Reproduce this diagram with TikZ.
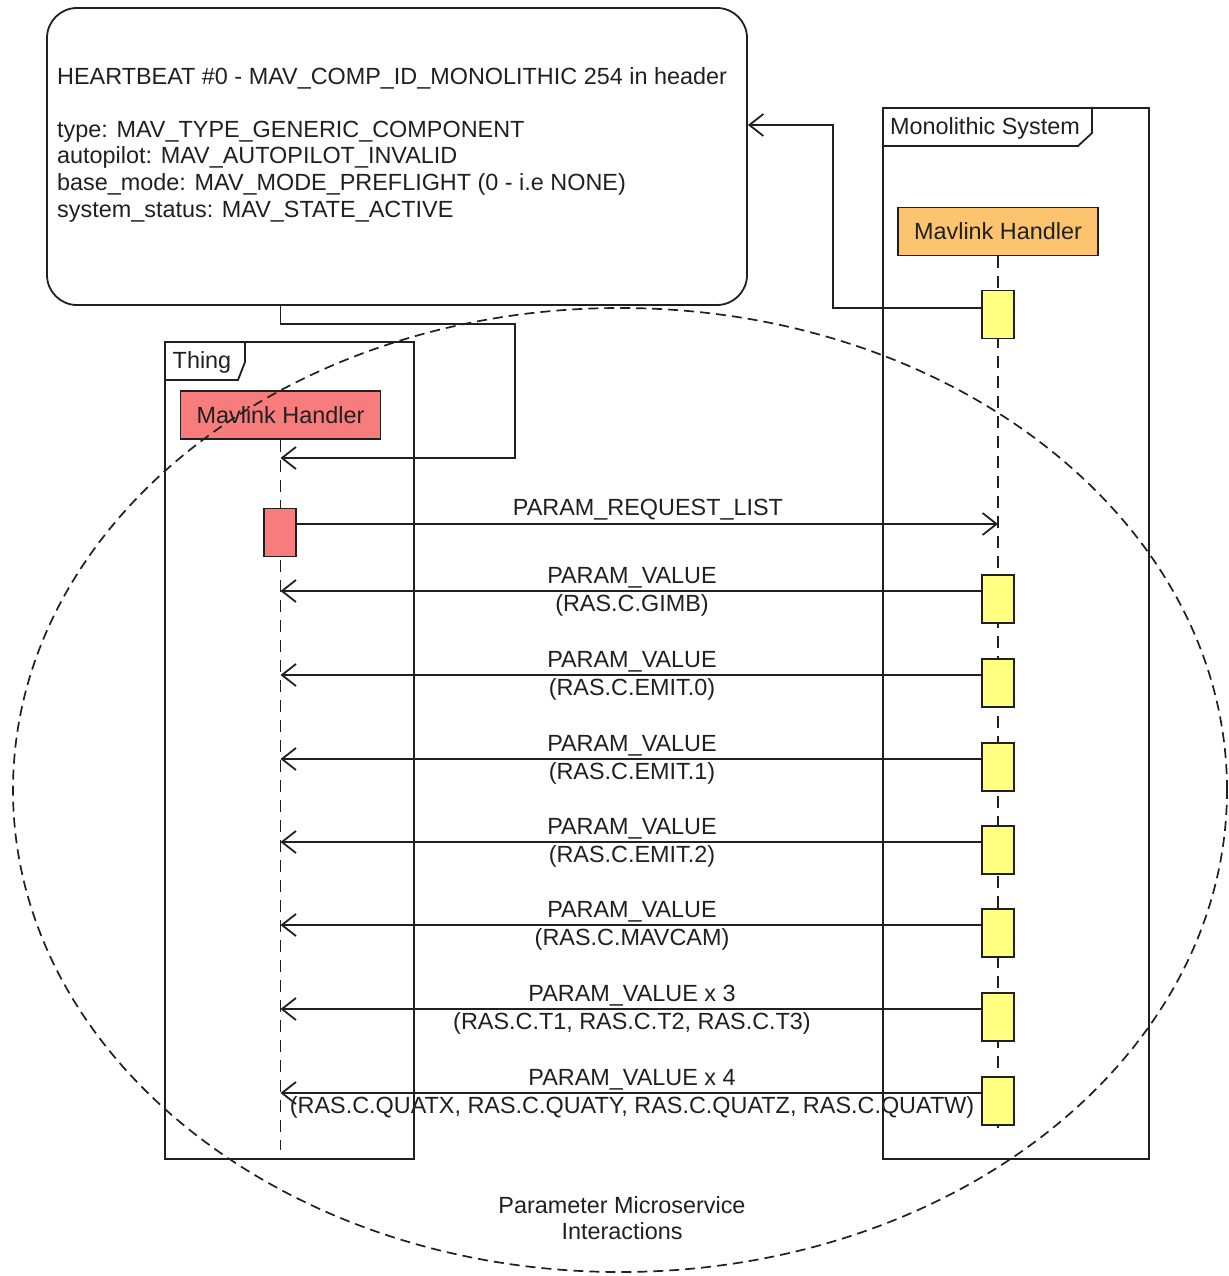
\documentclass[tikz,border=0pt]{standalone}
\usepackage{fontspec}
\setmainfont{Liberation Sans}
\usetikzlibrary{arrows.meta}
\definecolor{ink}{HTML}{202020}
\definecolor{handlerorange}{HTML}{FCC46F}
\definecolor{handlerred}{HTML}{F97C7C}
\definecolor{actyellow}{HTML}{FFFF80}

\begin{document}
\begin{tikzpicture}[x=1pt,y=-1pt,
  every node/.style={font=\fontsize{23.4}{26.6}\selectfont, text=ink},
  wire/.style={draw=ink, line width=1.8pt},
  frame/.style={wire, rectangle, inner sep=0, anchor=north west},
  head/.style={wire, rectangle, minimum width=200pt, minimum height=48pt, inner sep=0},
  act/.style={wire, rectangle, fill=actyellow, minimum width=32pt, minimum height=48pt, inner sep=0},
  lifeline/.style={draw=ink, line width=1.7pt, dash pattern=on 12pt off 8pt},
  msg/.style={wire, -{Straight Barb[length=14pt, width=22pt, line width=1.8pt]}},
  msglabel/.style={align=center, inner sep=0, font=\fontsize{23.4}{28}\selectfont},
  region/.style={draw=ink, line width=1.7pt, dash pattern=on 10pt off 6pt},
]
\useasboundingbox (0,0) rectangle (1228,1276);

% heartbeat note
\node[wire, rounded corners=30pt, minimum width=700pt, minimum height=297pt, inner sep=0] (note) at (397,156.5) {};
\node[anchor=north west, align=left, inner sep=0] (notetext) at (57,67)
  {HEARTBEAT \#0 - MAV\_COMP\_ID\_MONOLITHIC 254 in header\\[26.6pt]
   type: MAV\_TYPE\_GENERIC\_COMPONENT\\
   autopilot: MAV\_AUTOPILOT\_INVALID\\
   base\_mode: MAV\_MODE\_PREFLIGHT (0 - i.e NONE)\\
   system\_status: MAV\_STATE\_ACTIVE};

% Monolithic System frame
\node[frame, minimum width=266pt, minimum height=1051pt] (mono) at (882,107) {};
\draw[wire] (mono.north west) ++(0,39) -- ++(196,0) -- ++(14,-13) -- ++(0,-26);
\node[inner sep=0] (monotitle) at (985,128) {Monolithic System};

% Thing frame
\node[frame, minimum width=249pt, minimum height=817pt] (thing) at (164,341) {};
\draw[wire] (thing.north west) ++(0,39) -- ++(74,0) -- ++(7,-18) -- ++(0,-21);
\node[inner sep=0] (thingtitle) at (202,362) {Thing};

% lifeline heads
\node[head, fill=handlerorange] (monohead) at (998,231.5) {Mavlink Handler};
\node[head, fill=handlerred] (thinghead) at (280.5,415) {Mavlink Handler};

% lifelines
\coordinate (monoend) at (998,1128);
\coordinate (thingend) at (280.5,1150);
\draw[lifeline] (monohead.south) -- (monoend);
\draw[lifeline] (thinghead.south) -- (thingend);

% activations
\node[act] (m0) at (998,314.5) {};
\node[act, fill=handlerred] (t0) at (280,532.5) {};
\foreach \i/\y in {1/591,2/675,3/759,4/842,5/925,6/1009,7/1093}
  \node[act] (m\i) at (998,\y+8) {};

% heartbeat to the note
\coordinate (hbbend) at (833,125);
\draw[msg] (m0.west |- 0,308) -| (hbbend) -- (note.east |- hbbend);

% note to Thing
\coordinate (hbin) at (280.5,458);
\coordinate (hbturn) at (515,324);
\draw[msg] (hbin |- note.south) |- (hbturn) |- (hbin);

% parameter request
\coordinate (req) at (998,524);
\draw[msg] (t0.east |- req) -- (req);
\node[msglabel] (reqlabel) at (648,510) {PARAM\_REQUEST\_LIST};

% parameter values
\foreach \i/\y/\txt in {
  1/591/{PARAM\_VALUE\\(RAS.C.GIMB)},
  2/675/{PARAM\_VALUE\\(RAS.C.EMIT.0)},
  3/759/{PARAM\_VALUE\\(RAS.C.EMIT.1)},
  4/842/{PARAM\_VALUE\\(RAS.C.EMIT.2)},
  5/925/{PARAM\_VALUE\\(RAS.C.MAVCAM)},
  6/1009/{PARAM\_VALUE x 3\\(RAS.C.T1, RAS.C.T2, RAS.C.T3)},
  7/1093/{PARAM\_VALUE x 4\\(RAS.C.QUATX, RAS.C.QUATY, RAS.C.QUATZ, RAS.C.QUATW)}} {
  \coordinate (v\i) at (280.5,\y);
  \draw[msg] (m\i.west |- v\i) -- (v\i);
  \node[msglabel] (vlabel\i) at (632,\y+1) {\txt};
}

% interaction region
\draw[region] (620,790) ellipse [x radius=607pt, y radius=482pt];
\node[align=center, inner sep=0, font=\fontsize{23.4}{26}\selectfont] (caption) at (622,1218)
  {Parameter Microservice\\Interactions};
\end{tikzpicture}
\end{document}
